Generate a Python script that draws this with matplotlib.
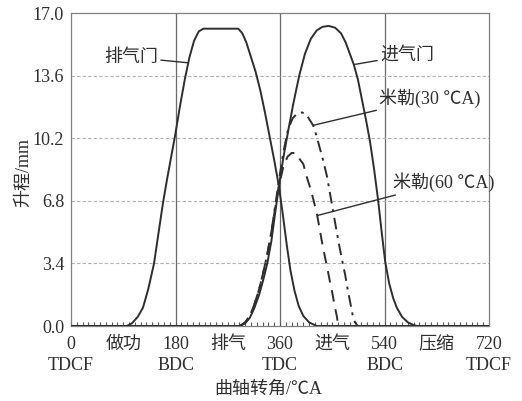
import numpy as np
import matplotlib.pyplot as plt
from matplotlib.ticker import MultipleLocator, FormatStrFormatter

plt.rcParams['font.family'] = ['Liberation Serif', 'Noto Sans CJK SC', 'DejaVu Sans']
plt.rcParams['font.size'] = 13

# valve lift (mm) against crank angle (deg CA)
exh_ang = [0, 96, 105, 115, 124, 133, 143, 150, 158, 165, 172, 179, 188, 196, 204, 212,
           220, 228, 288, 295, 302, 310, 318, 326, 334, 342, 350, 358, 365, 372, 378,
           385, 392, 400, 410, 423, 720]
exh_lift = [0, 0, 0.15, 0.5, 1.0, 2.0, 3.4, 4.9, 6.6, 7.9, 9.1, 10.3, 12.0, 13.4, 14.6, 15.5,
            16.0, 16.15, 16.15, 15.9, 15.4, 14.6, 13.8, 12.8, 11.6, 10.3, 9.0, 7.6, 6.0, 4.3, 3.0,
            1.9, 1.1, 0.55, 0.2, 0, 0]

int_ang = [0, 291, 300, 308, 316, 324, 331, 338, 345, 351, 358, 366, 374, 383, 393, 403,
           413, 423, 433, 444, 455, 465, 473, 480, 487, 494, 501, 508, 515, 522, 529,
           535, 541, 548, 555, 561, 570, 580, 590, 596, 720]
int_lift = [0, 0, 0.15, 0.45, 1.0, 1.7, 2.5, 3.4, 4.6, 6.0, 7.6, 9.2, 10.6, 12.1, 13.6, 14.8,
            15.6, 16.05, 16.25, 16.3, 16.2, 15.9, 15.4, 14.8, 14.2, 13.4, 12.3, 11.2, 10.0, 8.5, 6.8,
            5.1, 3.5, 2.3, 1.5, 1.0, 0.5, 0.2, 0.05, 0, 0]

m30_ang = [291, 300, 308, 316, 324, 331, 338, 345, 351, 358, 366, 374, 382, 390, 398, 405,
           411, 417, 423, 429, 435, 441, 446, 451, 456, 460, 466, 472, 477, 481, 485, 489, 494]
m30_lift = [0, 0.2, 0.55, 1.2, 2.0, 2.9, 3.9, 5.1, 6.4, 7.9, 9.5, 10.7, 11.3, 11.55, 11.6, 11.5,
            11.2, 10.9, 10.3, 9.6, 8.9, 8.1, 7.2, 6.3, 5.4, 4.7, 3.7, 2.8, 1.9, 1.25, 0.6, 0.2, 0]

m60_ang = [291, 300, 308, 316, 324, 331, 338, 345, 351, 358, 366, 373, 380, 386, 393, 400,
           406, 412, 418, 424, 428, 432, 437, 441, 446, 450, 454, 458, 460]
m60_lift = [0, 0.2, 0.55, 1.2, 2.0, 2.9, 3.9, 5.1, 6.3, 7.6, 8.7, 9.2, 9.4, 9.4, 9.1, 8.8,
            8.1, 7.5, 6.8, 6.0, 5.3, 4.6, 3.8, 3.2, 2.4, 1.8, 1.1, 0.5, 0]

xticks = [0, 90, 180, 270, 360, 450, 540, 630, 720]
xlabels = ['0\nTDCF', '做功', '180\nBDC', '排气', '360\nTDC', '进气', '540\nBDC', '压缩', '720\nTDCF']
yticks = [0.0, 3.4, 6.8, 10.2, 13.6, 17.0]

ink = '#2e2e2e'
fig = plt.figure(figsize=(5.22, 4.01), dpi=100)
ax = fig.add_axes([0.136, 0.187, 0.801, 0.7805])

for v in (180, 360, 540):
    ax.axvline(v, color='#6a6a6a', lw=0.9, zorder=1)
for h in yticks[1:-1]:
    ax.axhline(h, color='#b0b0b0', lw=0.8, ls=(0, (3, 2)), zorder=1)

ax.plot(exh_ang, exh_lift, color=ink, lw=1.4, zorder=3)
ax.plot(int_ang, int_lift, color=ink, lw=1.4, zorder=3)
ax.plot(m30_ang, m30_lift, color=ink, lw=1.4, ls=(0, (6, 3, 1.5, 3)), zorder=3)
ax.plot(m60_ang, m60_lift, color=ink, lw=1.4, ls=(0, (6, 4)), zorder=3)

ax.set_xlim(0, 720)
ax.set_ylim(0, 17.0)
ax.set_xticks(xticks)
ax.set_xticklabels(xlabels, linespacing=1.3)
ax.xaxis.set_minor_locator(MultipleLocator(10))
ax.set_yticks(yticks)
ax.yaxis.set_major_formatter(FormatStrFormatter('%.1f'))
ax.tick_params(axis='x', which='both', direction='in', length=3, width=0.8,
               color='#555555', labelcolor=ink, pad=7)
ax.tick_params(axis='y', length=0, pad=5, labelcolor=ink)
for s in ax.spines.values():
    s.set_color('#808080')
    s.set_linewidth(0.9)

ax.set_xlabel('曲轴转角/℃A', color=ink)
ax.xaxis.set_label_coords(0.471, -0.175)
ax.set_ylabel('升程/mm', color=ink)
ax.yaxis.set_label_coords(-0.092, 0.489)

arrow = dict(arrowstyle='-', color=ink, lw=1.0, shrinkA=0, shrinkB=0)
ax.annotate('排气门', xy=(201, 14.3), xytext=(150, 14.6), ha='right', va='center',
            color=ink, arrowprops=arrow)
ax.annotate('进气门', xy=(487, 14.2), xytext=(532, 14.7), ha='left', va='center',
            color=ink, arrowprops=arrow)
ax.annotate('米勒(30 ℃A)', xy=(417, 10.9), xytext=(530, 12.4), ha='left', va='center',
            color=ink, arrowprops=arrow)
ax.annotate('米勒(60 ℃A)', xy=(424, 6.0), xytext=(554, 7.8), ha='left', va='center',
            color=ink, arrowprops=arrow)

fig.savefig('out.png', dpi=100)
